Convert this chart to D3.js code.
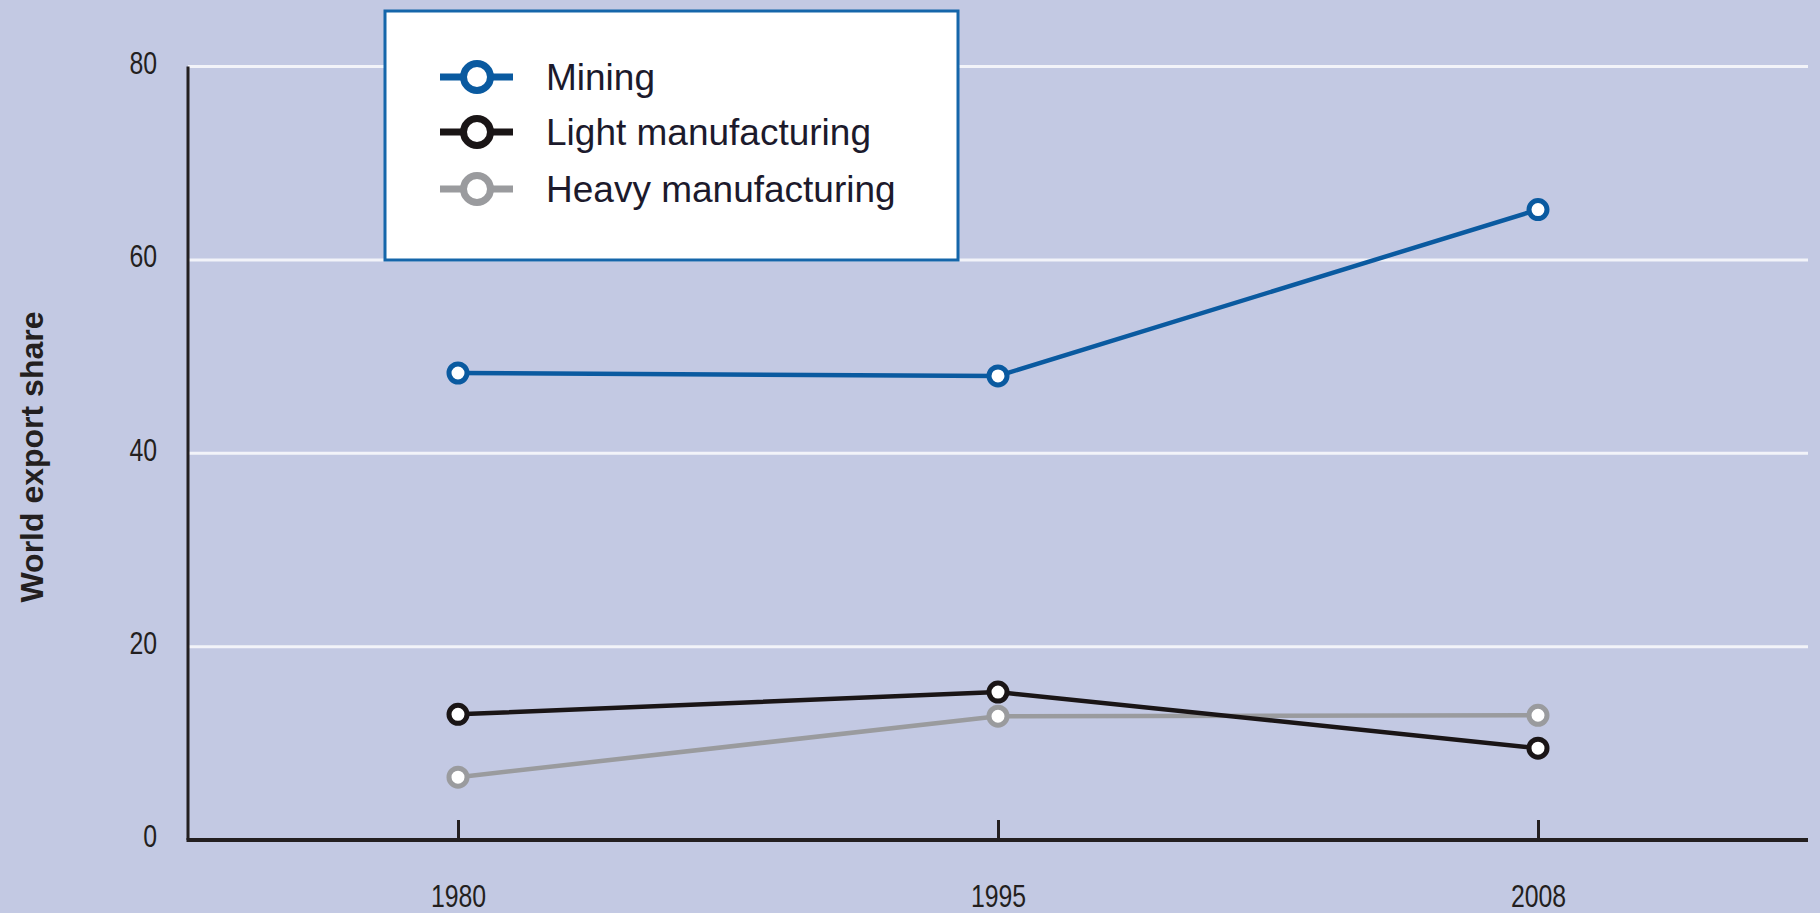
<!DOCTYPE html>
<html><head><meta charset="utf-8">
<script src="https://cdn.jsdelivr.net/npm/d3@7/dist/d3.min.js"></script>
<style>
html,body{margin:0;padding:0;background:#c3c9e3;}
svg{display:block;}
text{font-family:"Liberation Sans",Arial,sans-serif;}
</style></head>
<body>
<svg id="chart" width="1820" height="913"></svg>
<script>
const years = ["1980", "1995", "2008"];
const mining = [48.3, 48.0, 65.2];
const light = [13.0, 15.3, 9.5];
const heavy = [6.5, 12.8, 12.9];
const yTicks = [0, 20, 40, 60, 80];
const seriesNames = ["Mining", "Light manufacturing", "Heavy manufacturing"];
const seriesColors = ["#0a5aa0", "#1a1516", "#9a9b9e"];
const yTitle = "World export share";

const series = [mining, light, heavy].map((v, i) => ({name: seriesNames[i], color: seriesColors[i], values: v}));

const svg = d3.select("#chart");
const pLeft = 188, pRight = 1808, pTop = 66.5, pBottom = 840;

const x = d3.scalePoint().domain(years).range([pLeft, pRight]).padding(0.5);
const y = d3.scaleLinear().domain([0, 80]).range([pBottom, pTop]);

// gridlines
svg.append("g").selectAll("line").data(yTicks.filter(d => d > 0)).join("line")
  .attr("x1", pLeft).attr("x2", pRight)
  .attr("y1", d => y(d)).attr("y2", d => y(d))
  .attr("stroke", "#f2f3f9").attr("stroke-width", 3);

// y axis
const yAxis = svg.append("g").attr("transform", `translate(${pLeft},0)`)
  .call(d3.axisLeft(y).tickValues(yTicks).tickSize(0).tickPadding(0));
yAxis.select(".domain").remove();
yAxis.selectAll("text").attr("x", 0).attr("transform", "translate(-31,-4) scale(0.8,1)")
  .attr("font-size", 31).attr("fill", "#231f20").attr("dy", "0.35em");
svg.append("line").attr("x1", pLeft).attr("x2", pLeft).attr("y1", pTop).attr("y2", pBottom)
  .attr("stroke", "#231f20").attr("stroke-width", 3);

// x axis
const xAxis = svg.append("g").attr("transform", `translate(0,${pBottom})`)
  .call(d3.axisBottom(x).tickSize(-20).tickPadding(0));
xAxis.select(".domain").remove();
xAxis.selectAll(".tick line").attr("stroke", "#231f20").attr("stroke-width", 3);
xAxis.selectAll("text").attr("y", 0).attr("dy", 0).attr("transform", "translate(0,67) scale(0.8,1)")
  .attr("font-size", 31).attr("fill", "#231f20");
svg.append("line").attr("x1", pLeft - 1.5).attr("x2", pRight).attr("y1", pBottom).attr("y2", pBottom)
  .attr("stroke", "#231f20").attr("stroke-width", 4);

// y title
svg.append("text").attr("transform", `translate(43,457) rotate(-90)`)
  .attr("text-anchor", "middle")
  .attr("font-weight", "bold").attr("font-size", 32).attr("fill", "#231f20").text(yTitle);

// lines
const line = d3.line().x((d, i) => x(years[i])).y(d => y(d));
const sg = svg.append("g").selectAll("g").data(series.slice().reverse()).join("g");
sg.append("path").attr("d", d => line(d.values)).attr("fill", "none")
  .attr("stroke", d => d.color).attr("stroke-width", 4.5);
sg.selectAll("circle").data(d => d.values.map((v, i) => ({v, i, c: d.color}))).join("circle")
  .attr("cx", d => x(years[d.i])).attr("cy", d => y(d.v)).attr("r", 9)
  .attr("fill", "#fff").attr("stroke", d => d.c).attr("stroke-width", 5);

// legend
const lg = svg.append("g");
lg.append("rect").attr("x", 385).attr("y", 11).attr("width", 573).attr("height", 249)
  .attr("fill", "#fff").attr("stroke", "#1566aa").attr("stroke-width", 3);
const rows = [77, 132, 189];
const li = lg.selectAll("g.item").data(series).join("g").attr("class", "item")
  .attr("transform", (d, i) => `translate(0,${rows[i]})`);
li.append("line").attr("x1", 440).attr("x2", 513).attr("y1", 0).attr("y2", 0)
  .attr("stroke", d => d.color).attr("stroke-width", 7);
li.append("circle").attr("cx", 477).attr("cy", 0).attr("r", 13.5)
  .attr("fill", "#fff").attr("stroke", d => d.color).attr("stroke-width", 7);
li.append("text").attr("x", 546).attr("y", 13)
  .attr("font-size", 37).attr("fill", "#1c1a2c").text(d => d.name);
</script>
</body></html>
